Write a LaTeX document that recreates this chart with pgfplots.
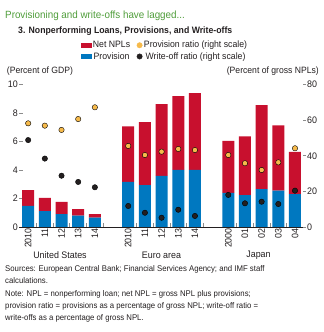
\documentclass[border=0pt]{standalone}
\usepackage{fontspec}
\setmainfont{Liberation Sans}[FakeStretch=0.94]
\usepackage{pgfplots}
\pgfplotsset{compat=1.18}
\definecolor{npl}{RGB}{200,16,46}
\definecolor{prov}{RGB}{0,120,192}
\definecolor{orng}{RGB}{246,186,75}
\definecolor{blk}{RGB}{35,31,32}
\definecolor{ttl}{RGB}{79,157,58}
\definecolor{tickc}{RGB}{140,140,140}
\begin{document}
\begin{tikzpicture}[x=1bp,y=1bp]
\useasboundingbox (0,0) rectangle (324,332);
\pgfplotsset{
  base/.style={
    scale only axis, width=287bp, height=142.5bp,
    at={(19bp,105bp)}, anchor=south west,
    xmin=-0.55, xmax=16.66,
    /pgf/number format/assume math mode=true,
    ticklabel style={font=\fontsize{9.5}{10}\selectfont, text=blk},
    y axis line style={draw=none},
    major tick length=3.5bp, minor tick length=3.5bp,
    tick align=inside,
    tick style={tickc, line width=0.8pt},
  }
}
\begin{axis}[base,
  ymin=0, ymax=10,
  axis x line*=bottom, axis y line*=left,
  x axis line style={blk, line width=0.6pt, -},
  ytick={0,2,4,6,8,10},
  yticklabel style={inner sep=1bp},
  xtick={0,1,2,3,4,6,7,8,9,10,12,13,14,15,16},
  xticklabels={2010,11,12,13,14,2010,11,12,13,14,2000,01,02,03,04},
  xticklabel style={rotate=90, anchor=east, inner sep=1bp},
  major x tick style={draw=none},
  minor xtick={0.5,1.5,2.5,3.5,4.5,6.5,7.5,8.5,9.5,10.5,12.5,13.5,14.5,15.5},
  ybar stacked, bar width=12bp,
  legend columns=2,
  legend style={at={(0.205,1.33)}, anchor=north west, draw=none, fill=none,
    font=\fontsize{9.3}{10}\selectfont, text=blk,
    row sep=0bp,
    nodes={inner sep=1.5bp},
    /tikz/every even column/.append style={column sep=5bp}},
]
\addplot[fill=prov, draw=none, forget plot] coordinates {
 (0,1.49) (1,1.12) (2,0.91) (3,0.79) (4,0.65)
 (6,3.17) (7,2.94) (8,3.59) (9,4.01) (10,4.01)
 (12,2.40) (13,2.24) (14,2.66) (15,2.55) (16,2.30)};
\addplot[fill=npl, draw=none, forget plot] coordinates {
 (0,1.10) (1,0.93) (2,0.86) (3,0.47) (4,0.26)
 (6,3.89) (7,4.42) (8,5.03) (9,5.17) (10,5.38)
 (12,3.64) (13,4.12) (14,5.89) (15,4.58) (16,2.97)};
\addlegendimage{legend image code/.code={\fill[npl] (0bp,-2.1bp) rectangle (10bp,2.1bp);}}
\addlegendentry{Net NPLs}
\addlegendimage{legend image code/.code={\fill[orng] (5bp,0bp) circle (2.7bp);}}
\addlegendentry{Provision ratio (right scale)}
\addlegendimage{legend image code/.code={\fill[prov] (0bp,-2.1bp) rectangle (10bp,2.1bp);}}
\addlegendentry{Provision}
\addlegendimage{legend image code/.code={\fill[blk] (5bp,0bp) circle (2.7bp);}}
\addlegendentry{Write-off ratio (right scale)}
\end{axis}
\begin{axis}[base,
  ymin=0, ymax=80,
  axis x line=none, axis y line*=right,
  ytick={0,20,40,60,80},
  yticklabel style={inner sep=1bp},
]
\addplot[only marks, mark=*, mark size=2.7bp, mark options={fill=orng, draw=none}] coordinates {
 (0,58.2) (1,56.9) (2,54.5) (3,60.6) (4,67.2)
 (6,45.5) (7,40.4) (8,42.3) (9,43.8) (10,43.2)
 (12,40.4) (13,35.8) (14,32.0) (15,36.3) (16,44.2)};
\addplot[only marks, mark=*, mark size=2.7bp, mark options={fill=blk, draw=none}] coordinates {
 (0,48.8) (1,38.4) (2,28.8) (3,25.3) (4,22.3)
 (6,11.8) (7,8.0) (8,5.2) (9,9.7) (10,6.2)
 (12,18.0) (13,13.3) (14,14.2) (15,12.9) (16,20.4)};
\end{axis}
% titles
\node[anchor=west, inner sep=0, text=ttl, font=\fontsize{10.5}{12}\selectfont] at (5,316) {Provisioning and write-offs have lagged...};
\node[anchor=west, inner sep=0, text=blk, font=\bfseries\fontsize{9.3}{11}\selectfont] at (18,301) {3. Nonperforming Loans, Provisions, and Write-offs};
\node[anchor=west, inner sep=0, text=blk, font=\fontsize{9.2}{10}\selectfont] at (6.7,261) {(Percent of GDP)};
\node[anchor=east, inner sep=0, text=blk, font=\fontsize{9.2}{10}\selectfont] at (319,261) {(Percent of gross NPLs)};
% group labels
\node[inner sep=0, text=blk, font=\fontsize{9.5}{10}\selectfont] at (60,77) {United States};
\node[inner sep=0, text=blk, font=\fontsize{9.5}{10}\selectfont] at (161.5,77) {Euro area};
\node[inner sep=0, text=blk, font=\fontsize{9.5}{10}\selectfont] at (258.5,77) {Japan};
% sources
\node[anchor=north west, inner sep=0, align=left, text=blk, font=\fontsize{8.3}{12.2}\selectfont] at (5,66.5) {Sources: European Central Bank; Financial Services Agency; and IMF staff\\calculations.\\Note: NPL = nonperforming loan; net NPL = gross NPL plus provisions;\\provision ratio = provisions as a percentage of gross NPL; write-off ratio =\\write-offs as a percentage of gross NPL.};
\end{tikzpicture}
\end{document}
